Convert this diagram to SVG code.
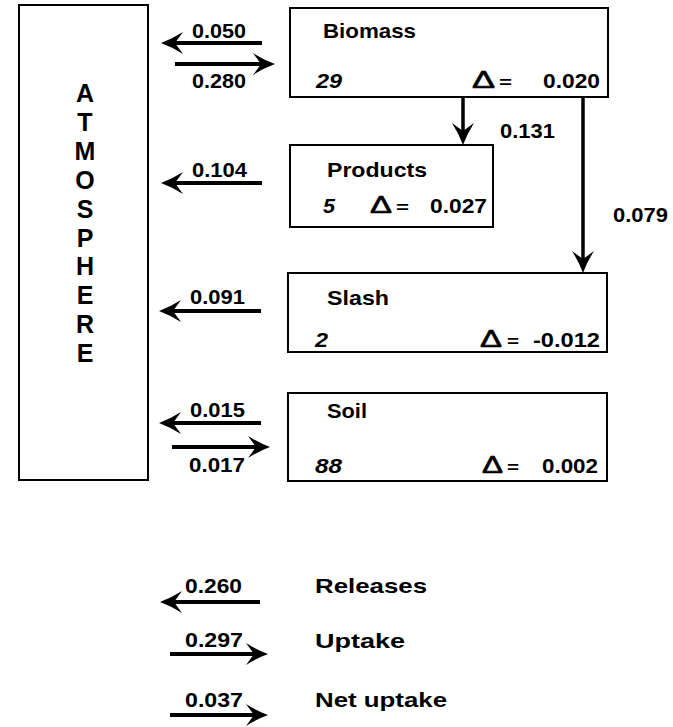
<svg xmlns="http://www.w3.org/2000/svg" width="673" height="727" viewBox="0 0 673 727">
<style>
.box{fill:#fff;stroke:#000;stroke-width:2}
.t{font-family:"Liberation Sans",Arial,sans-serif;font-weight:bold;fill:#000;font-size:21px}
.stock{font-style:italic}
.eq{font-size:17px}
.delta{font-family:"Liberation Sans",Arial,sans-serif;font-size:23px;fill:#000;stroke:#000;stroke-width:0.6}
.atm{font-size:25px}
.flow{stroke:#000;stroke-width:4;fill:none}
.vflow{stroke:#000;stroke-width:3.5;fill:none}
</style>
<defs>
<marker id="ah" viewBox="-10 -13 26 26" markerWidth="26" markerHeight="26" refX="0" refY="0" orient="auto" markerUnits="userSpaceOnUse">
<path d="M14,0 Q3,-4 -8,-11 L0,0 L-8,11 Q3,4 14,0 Z" fill="#000"/>
</marker>
</defs>
<g id="atmosphere">
<rect class="box" x="19" y="5" width="129" height="475"/>
<text class="t atm" text-anchor="middle" x="85" y="102">A</text>
<text class="t atm" text-anchor="middle" x="85" y="131">T</text>
<text class="t atm" text-anchor="middle" x="85" y="160">M</text>
<text class="t atm" text-anchor="middle" x="85" y="189">O</text>
<text class="t atm" text-anchor="middle" x="85" y="218">S</text>
<text class="t atm" text-anchor="middle" x="85" y="247">P</text>
<text class="t atm" text-anchor="middle" x="85" y="275">H</text>
<text class="t atm" text-anchor="middle" x="85" y="304">E</text>
<text class="t atm" text-anchor="middle" x="85" y="333">R</text>
<text class="t atm" text-anchor="middle" x="85" y="362">E</text>
</g>
<g id="biomass">
<rect class="box" x="290" y="8" width="318" height="89"/>
<text class="t" x="323" y="38" textLength="93" lengthAdjust="spacingAndGlyphs">Biomass</text>
<text class="t stock" x="316" y="88" textLength="26" lengthAdjust="spacingAndGlyphs">29</text>
<text class="delta" x="472" y="88" textLength="23" lengthAdjust="spacingAndGlyphs">Δ</text>
<text class="t eq" x="499" y="88" textLength="13" lengthAdjust="spacingAndGlyphs">=</text>
<text class="t" x="543" y="88" textLength="57" lengthAdjust="spacingAndGlyphs">0.020</text>
</g>
<g id="products">
<rect class="box" x="290" y="145" width="203" height="82"/>
<text class="t" x="327" y="177" textLength="100" lengthAdjust="spacingAndGlyphs">Products</text>
<text class="t stock" x="323" y="213" textLength="12" lengthAdjust="spacingAndGlyphs">5</text>
<text class="delta" x="370" y="213" textLength="22" lengthAdjust="spacingAndGlyphs">Δ</text>
<text class="t eq" x="396" y="213" textLength="13" lengthAdjust="spacingAndGlyphs">=</text>
<text class="t" x="430" y="213" textLength="57" lengthAdjust="spacingAndGlyphs">0.027</text>
</g>
<g id="slash">
<rect class="box" x="288" y="273" width="319" height="79"/>
<text class="t" x="327" y="305" textLength="62" lengthAdjust="spacingAndGlyphs">Slash</text>
<text class="t stock" x="315" y="347" textLength="13" lengthAdjust="spacingAndGlyphs">2</text>
<text class="delta" x="480" y="347" textLength="22" lengthAdjust="spacingAndGlyphs">Δ</text>
<text class="t eq" x="507" y="347" textLength="12" lengthAdjust="spacingAndGlyphs">=</text>
<text class="t" x="533" y="347" textLength="67" lengthAdjust="spacingAndGlyphs">-0.012</text>
</g>
<g id="soil">
<rect class="box" x="288" y="393" width="319" height="88"/>
<text class="t" x="327" y="418" textLength="40" lengthAdjust="spacingAndGlyphs">Soil</text>
<text class="t stock" x="315" y="473" textLength="27" lengthAdjust="spacingAndGlyphs">88</text>
<text class="delta" x="482" y="473" textLength="21" lengthAdjust="spacingAndGlyphs">Δ</text>
<text class="t eq" x="507" y="473" textLength="12" lengthAdjust="spacingAndGlyphs">=</text>
<text class="t" x="542" y="473" textLength="56" lengthAdjust="spacingAndGlyphs">0.002</text>
</g>
<g id="connectors">
<line class="flow" x1="262" y1="43" x2="175" y2="43" marker-end="url(#ah)"/>
<line class="flow" x1="175" y1="64" x2="261" y2="64" marker-end="url(#ah)"/>
<line class="flow" x1="262" y1="183" x2="175" y2="183" marker-end="url(#ah)"/>
<line class="flow" x1="261" y1="311" x2="173" y2="311" marker-end="url(#ah)"/>
<line class="flow" x1="261" y1="423" x2="173" y2="423" marker-end="url(#ah)"/>
<line class="flow" x1="172" y1="447" x2="256" y2="447" marker-end="url(#ah)"/>
<line class="vflow" x1="463" y1="97" x2="463" y2="131" marker-end="url(#ah)"/>
<line class="vflow" x1="583" y1="97" x2="583" y2="259" marker-end="url(#ah)"/>
<text class="t" x="192" y="38" textLength="54" lengthAdjust="spacingAndGlyphs">0.050</text>
<text class="t" x="192" y="88" textLength="54" lengthAdjust="spacingAndGlyphs">0.280</text>
<text class="t" x="192" y="177" textLength="55" lengthAdjust="spacingAndGlyphs">0.104</text>
<text class="t" x="190" y="304" textLength="55" lengthAdjust="spacingAndGlyphs">0.091</text>
<text class="t" x="190" y="417" textLength="55" lengthAdjust="spacingAndGlyphs">0.015</text>
<text class="t" x="189" y="472" textLength="56" lengthAdjust="spacingAndGlyphs">0.017</text>
<text class="t" x="500" y="138" textLength="55" lengthAdjust="spacingAndGlyphs">0.131</text>
<text class="t" x="613" y="222" textLength="55" lengthAdjust="spacingAndGlyphs">0.079</text>
</g>
<g id="legend">
<line class="flow" x1="260" y1="602" x2="174" y2="602" marker-end="url(#ah)"/>
<text class="t" x="185" y="593" textLength="57" lengthAdjust="spacingAndGlyphs">0.260</text>
<text class="t" x="315" y="593" textLength="112" lengthAdjust="spacingAndGlyphs">Releases</text>
<line class="flow" x1="170" y1="654" x2="254" y2="654" marker-end="url(#ah)"/>
<text class="t" x="185" y="647" textLength="58" lengthAdjust="spacingAndGlyphs">0.297</text>
<text class="t" x="315" y="648" textLength="90" lengthAdjust="spacingAndGlyphs">Uptake</text>
<line class="flow" x1="170" y1="715" x2="254" y2="715" marker-end="url(#ah)"/>
<text class="t" x="185" y="707" textLength="58" lengthAdjust="spacingAndGlyphs">0.037</text>
<text class="t" x="315" y="707" textLength="132" lengthAdjust="spacingAndGlyphs">Net uptake</text>
</g>
</svg>
